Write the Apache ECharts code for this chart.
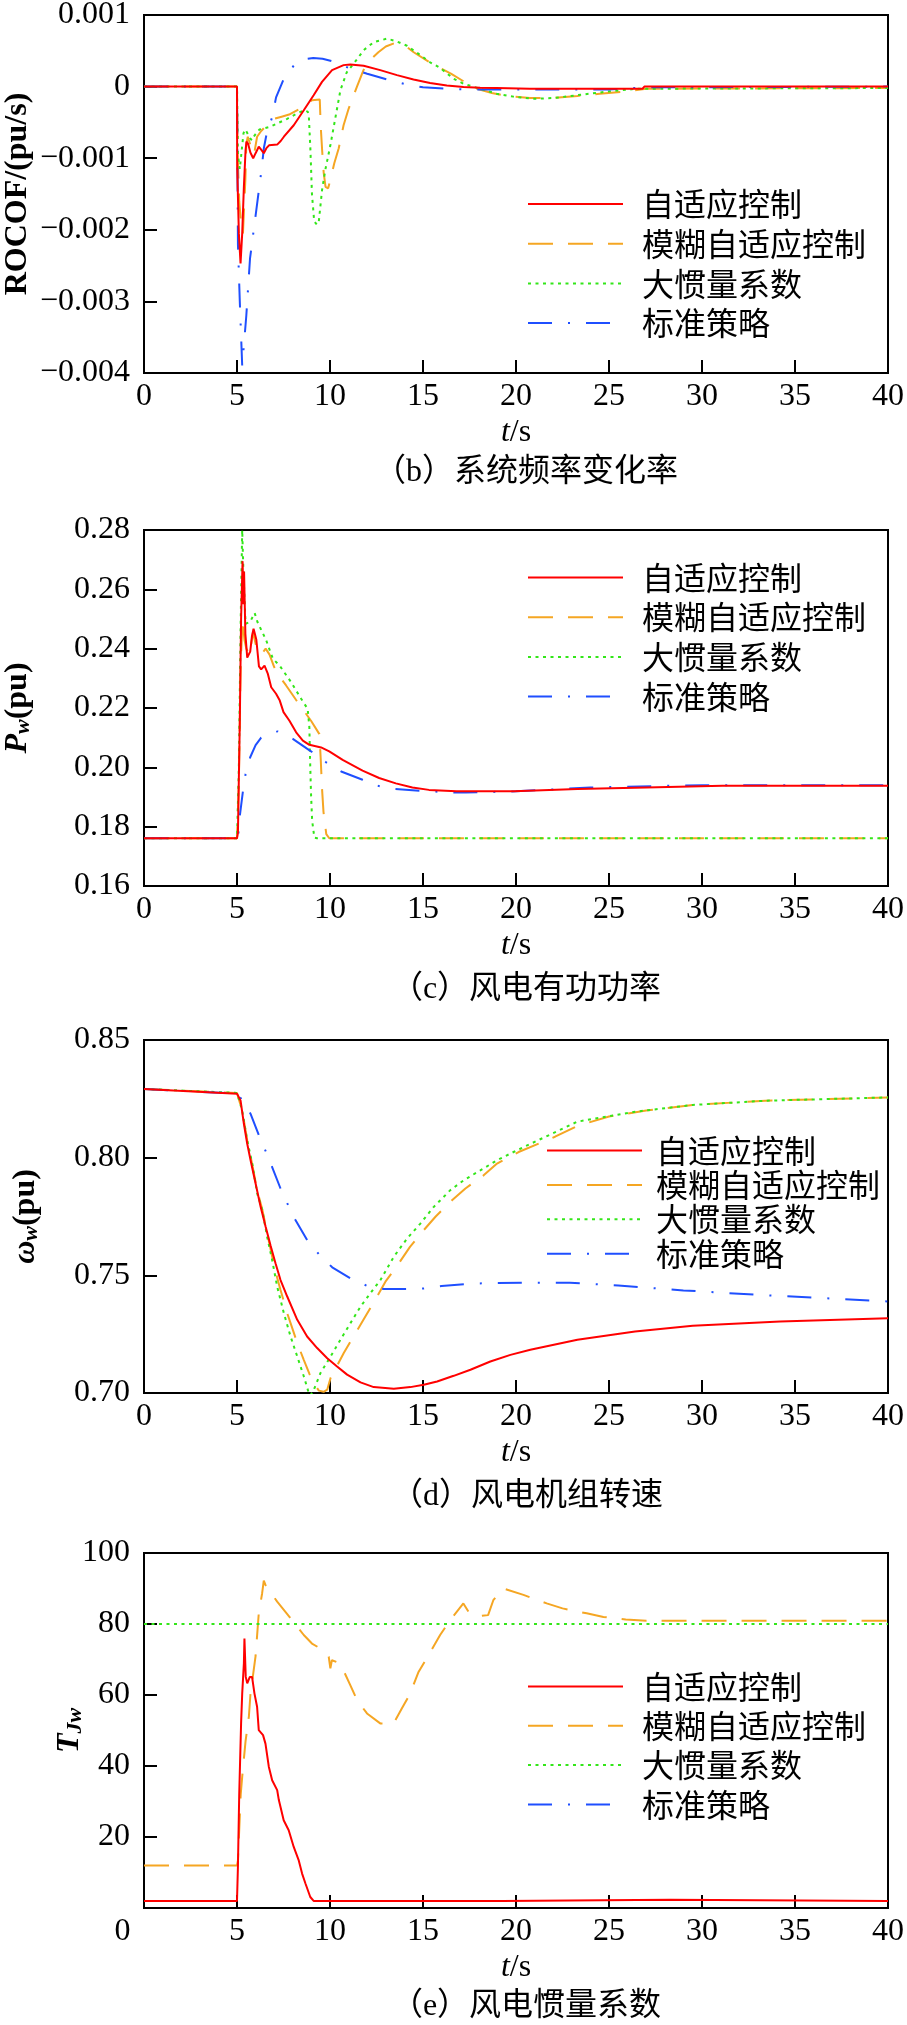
<!DOCTYPE html>
<html>
<head>
<meta charset="utf-8">
<script src="https://cdn.jsdelivr.net/npm/echarts@6/dist/echarts.min.js"></script>
<style>
html,body{margin:0;padding:0;background:#fff;}
#chart{width:907px;height:2025px;}
</style>
</head>
<body>
<div id="chart"></div>
<script>
// ---------- DATA ----------
const seriesNames = ['自适应控制', '模糊自适应控制', '大惯量系数', '标准策略'];
const captions = ['（b）系统频率变化率', '（c）风电有功功率', '（d）风电机组转速', '（e）风电惯量系数'];

// (b) ROCOF  [t (s), ROCOF (pu/s)]
const rocofAdaptive = [[0,0],[5.0,0],[5.01,-0.00112],[5.1,-0.00205],[5.19,-0.00247],[5.28,-0.00205],[5.37,-0.0014],[5.46,-0.00089],[5.51,-0.00077],[5.6,-0.0008],[5.72,-0.00092],[5.87,-0.001],[6.0,-0.00093],[6.17,-0.00084],[6.3,-0.00088],[6.44,-0.00093],[6.58,-0.00086],[6.72,-0.00082],[7.16,-0.00081],[7.35,-0.00076],[7.52,-0.0007],[8.05,-0.00054],[8.59,-0.00033],[9.12,-0.00012],[9.57,0.000066],[10.11,0.00023],[10.73,0.0003],[11.09,0.00031],[11.81,0.00029],[12.7,0.00023],[13.6,0.00016],[14.49,0.0001],[15.38,0.00005],[16.28,0.000015],[17.18,-0.000005],[18.07,-0.000015],[18.96,-0.00002],[20.75,-0.00003],[26.8,-0.00003],[26.9,0],[40,0]];
const rocofFuzzy = [[0,0],[5.0,0],[5.03,-0.0009],[5.12,-0.0016],[5.25,-0.002],[5.32,-0.00205],[5.38,-0.0017],[5.45,-0.0013],[5.5,-0.0008],[5.58,-0.0007],[5.7,-0.0008],[5.85,-0.00095],[5.95,-0.0009],[6.08,-0.0007],[6.3,-0.00062],[6.6,-0.00054],[6.8,-0.00049],[7.0,-0.00045],[7.4,-0.00042],[7.8,-0.00039],[8.6,-0.00028],[9.03,-0.00019],[9.45,-0.00018],[9.5,-0.00055],[9.58,-0.0009],[9.66,-0.0012],[9.76,-0.0014],[9.9,-0.00142],[10.02,-0.0013],[10.23,-0.00107],[10.47,-0.00086],[10.73,-0.00054],[11.0,-0.00031],[11.45,0.0],[11.8,0.00023],[12.2,0.00038],[12.6,0.00048],[13.0,0.00056],[13.4,0.0006],[14.0,0.00058],[14.5,0.00048],[15.3,0.00035],[15.7,0.00029],[16.5,0.00018],[17.4,0.00004],[17.9,-0.00003],[18.7,-0.00009],[19.5,-0.00013],[20.75,-0.00016],[22,-0.00016],[23.3,-0.00013],[24.5,-0.0001],[25.8,-0.00007],[27,-0.00003],[40,-0.00002]];
const rocofLarge = [[0,0],[5.0,0],[5.05,-0.00095],[5.15,-0.00115],[5.25,-0.0009],[5.35,-0.00065],[5.45,-0.0006],[5.55,-0.00062],[5.7,-0.00072],[5.8,-0.00075],[5.95,-0.00068],[6.2,-0.0006],[6.5,-0.00058],[6.8,-0.00056],[7.2,-0.00051],[7.7,-0.00045],[8.2,-0.00038],[8.6,-0.00033],[8.8,-0.00035],[8.86,-0.0004],[8.95,-0.0009],[9.03,-0.0015],[9.15,-0.00188],[9.3,-0.00193],[9.4,-0.00188],[9.57,-0.00145],[9.75,-0.00116],[10.02,-0.00082],[10.3,-0.00042],[10.56,-0.00005],[10.9,0.0002],[11.45,0.00038],[11.81,0.00051],[12.35,0.00062],[13.06,0.00067],[13.6,0.00063],[14.14,0.00057],[14.85,0.00044],[15.38,0.00034],[15.93,0.00026],[16.64,0.00011],[17.18,0.00004],[18.07,-0.00003],[18.96,-0.0001],[19.86,-0.00014],[20.9,-0.00017],[22,-0.00016],[23.3,-0.00012],[24.9,-0.00007],[26.5,-0.00003],[40,-0.00002]];
const rocofStandard = [[0,0],[5.0,0],[5.05,-0.0022],[5.15,-0.003],[5.28,-0.0039],[5.35,-0.0039],[5.5,-0.0032],[5.7,-0.0024],[5.9,-0.002],[6.1,-0.0016],[6.3,-0.0012],[6.45,-0.00085],[6.6,-0.00065],[6.9,-0.00042],[7.1,-0.00015],[7.5,0.0001],[8.1,0.00031],[8.6,0.00038],[9.1,0.0004],[9.6,0.00039],[10.2,0.00035],[11.1,0.00025],[12.0,0.00018],[13.2,0.00009],[14.1,0.00003],[15.0,-0.00001],[16.3,-0.00003],[17.2,-0.00004],[20,-0.00004],[25,-0.00004],[27,-0.00001],[40,0]];

// (c) wind active power P_w [t, pu]
const powerAdaptive = [[0,0.1761],[5.0,0.1761],[5.05,0.178],[5.15,0.215],[5.22,0.25],[5.3,0.2695],[5.35,0.255],[5.38,0.266],[5.45,0.245],[5.55,0.237],[5.71,0.239],[5.8,0.244],[5.89,0.2467],[5.96,0.245],[6.04,0.243],[6.18,0.234],[6.3,0.233],[6.48,0.2343],[6.66,0.2315],[6.84,0.227],[7.1,0.2248],[7.3,0.2225],[7.5,0.2186],[7.82,0.2157],[8.18,0.2118],[8.54,0.209],[8.89,0.2076],[9.52,0.2067],[9.96,0.2054],[10.68,0.2025],[11.75,0.1989],[12.64,0.1964],[13.54,0.1946],[14.43,0.1932],[15.32,0.1924],[16.8,0.1919],[19.9,0.1919],[23.3,0.1927],[27,0.1932],[31.1,0.1938],[40,0.1938]];
const powerFuzzy = [[0,0.1761],[5.0,0.1761],[5.1,0.195],[5.2,0.235],[5.3,0.25],[5.4,0.243],[5.5,0.24],[5.68,0.238],[5.86,0.2456],[6.04,0.2405],[6.3,0.238],[6.54,0.24],[6.75,0.238],[7.0,0.2338],[7.3,0.2305],[7.64,0.2276],[8.18,0.2227],[8.6,0.219],[8.98,0.2157],[9.43,0.2112],[9.5,0.203],[9.57,0.193],[9.65,0.185],[9.8,0.1775],[9.96,0.1761],[40,0.1761]];
const powerLarge = [[0,0.1761],[5.0,0.1761],[5.1,0.2],[5.2,0.25],[5.28,0.28],[5.35,0.265],[5.46,0.2484],[5.7,0.249],[5.95,0.252],[6.1,0.249],[6.57,0.2428],[6.93,0.2366],[7.29,0.2343],[7.91,0.2287],[8.45,0.2231],[8.8,0.2197],[8.89,0.2135],[8.93,0.2022],[8.98,0.191],[9.04,0.182],[9.16,0.1763],[9.3,0.1761],[40,0.1761]];
const powerStandard = [[0,0.1761],[5.0,0.1761],[5.08,0.178],[5.14,0.183],[5.32,0.192],[5.46,0.1977],[5.71,0.2034],[6.0,0.2075],[6.3,0.21],[7.18,0.2121],[8.0,0.2096],[8.98,0.2054],[9.79,0.2017],[10.6,0.1986],[11.75,0.1958],[12.55,0.1938],[13.5,0.1927],[14.8,0.1921],[16.8,0.1915],[17.3,0.1915],[20,0.1919],[24,0.1932],[30,0.194],[40,0.194]];

// (d) rotor speed omega_w [t, pu]
const speedAdaptive = [[0,0.8292],[5.0,0.8272],[5.19,0.8243],[5.37,0.8144],[5.55,0.8059],[5.73,0.7989],[6.0,0.789],[6.27,0.7791],[6.54,0.7706],[6.8,0.7628],[7.07,0.7551],[7.34,0.748],[7.7,0.741],[8.24,0.7311],[8.77,0.724],[9.31,0.7191],[9.85,0.7148],[10.38,0.7113],[10.92,0.7078],[11.64,0.7045],[12.35,0.7025],[13.43,0.7018],[14.32,0.7025],[15.04,0.7035],[15.76,0.7049],[16.65,0.7073],[17.55,0.7099],[18.62,0.7134],[19.7,0.7162],[20.77,0.7184],[23.3,0.7226],[26.4,0.7261],[29.5,0.7286],[34.2,0.7304],[40,0.7318]];
const speedFuzzy = [[0,0.8292],[5.0,0.8275],[5.28,0.82],[5.55,0.8073],[5.82,0.797],[6.09,0.786],[6.36,0.778],[6.62,0.768],[6.89,0.758],[7.16,0.749],[7.34,0.7438],[7.7,0.7339],[7.88,0.7297],[8.24,0.7212],[8.59,0.7141],[8.9,0.708],[9.13,0.7042],[9.4,0.701],[9.66,0.7005],[9.85,0.7014],[10.03,0.7064],[10.74,0.717],[11.37,0.7254],[11.9,0.7325],[12.53,0.741],[12.98,0.7473],[13.7,0.7551],[14.3,0.7621],[15.04,0.7692],[15.67,0.7749],[16.56,0.7819],[17.28,0.7869],[18.26,0.7925],[18.98,0.7975],[20.14,0.8024],[22.1,0.8089],[23.3,0.8135],[25,0.8175],[27,0.82],[29.5,0.8224],[33.4,0.8242],[40,0.8256]];
const speedLarge = [[0,0.8292],[5.0,0.8275],[5.28,0.82],[5.55,0.8073],[5.82,0.7975],[6.09,0.7847],[6.36,0.7777],[6.62,0.7664],[6.89,0.7565],[7.16,0.7452],[7.52,0.7339],[7.88,0.724],[8.24,0.7155],[8.59,0.7071],[8.86,0.7],[8.95,0.699],[9.13,0.7014],[9.49,0.7085],[10.03,0.7155],[10.56,0.7226],[11.1,0.7297],[11.64,0.7367],[12.17,0.7424],[12.71,0.748],[13.43,0.7579],[14.15,0.7657],[14.86,0.772],[15.58,0.7791],[16.47,0.7862],[17.19,0.7904],[18.08,0.7946],[18.98,0.7989],[19.87,0.8024],[20.6,0.8052],[23.3,0.8153],[26.4,0.8195],[29.5,0.8224],[33.4,0.8242],[40,0.8256]];
const speedStandard = [[0,0.8292],[5.0,0.8272],[5.19,0.8254],[5.5,0.822],[5.73,0.8186],[6.18,0.8095],[6.54,0.8028],[6.9,0.7958],[7.34,0.7869],[7.75,0.7798],[8.15,0.7734],[8.77,0.765],[9.4,0.759],[10.12,0.7534],[11.1,0.7487],[12.0,0.7455],[12.9,0.7442],[14.15,0.7442],[15.04,0.7444],[16.0,0.7455],[17.2,0.7462],[18.2,0.7466],[20.4,0.7469],[22.9,0.7469],[25.5,0.7457],[29,0.7436],[33,0.7417],[36.6,0.7403],[40,0.7389]];

// (e) wind inertia coefficient T_Jw [t, value]
const inertiaAdaptive = [[0,2.0],[5.0,2.0],[5.05,11.6],[5.12,32.2],[5.22,52],[5.28,60.4],[5.37,68.9],[5.4,75.9],[5.47,65.1],[5.55,63.3],[5.69,65.1],[5.81,65.1],[5.94,60.4],[6.08,56.7],[6.17,50.1],[6.4,48.7],[6.53,46.3],[6.71,39.8],[6.89,36.0],[7.16,33.2],[7.25,30.4],[7.51,24.7],[7.78,21.9],[8.05,17.2],[8.32,13.4],[8.5,9.7],[8.68,6.9],[8.94,3.1],[9.12,2.0],[19.28,2.0],[19.3,2.35],[28.3,2.35],[28.32,2.0],[40,2.0]];
const inertiaFuzzy = [[0,12.0],[5.0,12.0],[5.05,13.4],[5.2,32],[5.28,37],[5.46,47],[5.64,54],[5.72,60],[6.0,71],[6.17,83],[6.35,88.6],[6.44,92.2],[6.53,91],[7.16,86.3],[7.96,81.1],[8.59,76.9],[9.03,74.5],[9.48,73.1],[9.93,70.8],[10.02,67.5],[10.1,69.8],[10.55,68.9],[11.09,62.8],[11.45,58.6],[11.99,54.8],[12.7,52.0],[13.42,52.0],[13.86,56.2],[14.31,60.4],[14.76,66.5],[15.3,71.2],[15.92,76.9],[16.46,81.1],[17.17,85.8],[17.5,83],[18.0,82.2],[18.5,82.5],[18.78,86.7],[19.32,90.0],[20.4,88.2],[21.65,85.8],[22.5,84.4],[23.8,83],[24.7,82.0],[25.9,81.3],[27,80.9],[40,80.9]];
const inertiaLarge = [[0,80],[40,80]];
const inertiaStandard = [];

// axis ranges [min, max, interval]
const xRange = [0, 40, 5];
const yRanges = [[-0.004, 0.001, 0.001], [0.16, 0.28, 0.02], [0.70, 0.85, 0.05], [0, 100, 20]];

// ---------- STYLE ----------
const SERIF = "'Liberation Serif', 'Times New Roman', serif";
const CJK = "'Noto Sans CJK SC', sans-serif";
const COLORS = ['#ff0000', '#f5a623', '#33e619', '#1f4fff'];
const DASHES = ['solid', [25, 15], [3, 4.5], [24, 16, 2, 16]];

const panelData = [
  [rocofAdaptive, rocofFuzzy, rocofLarge, rocofStandard],
  [powerAdaptive, powerFuzzy, powerLarge, powerStandard],
  [speedAdaptive, speedFuzzy, speedLarge, speedStandard],
  [inertiaAdaptive, inertiaFuzzy, inertiaLarge, inertiaStandard]
];

const grids = [
  {left: 144, top: 15, width: 744, height: 358},
  {left: 144, top: 530, width: 744, height: 356},
  {left: 144, top: 1040, width: 744, height: 353},
  {left: 144, top: 1553, width: 744, height: 355}
];

const yNames = ['ROCOF/(pu/s)', '{i|P}{s|w}(pu)', '{i|ω}{s|w}(pu)', '{i|T}{s|Jw}'];
const yNameGaps = [110, 110, 102, 58];
const yFormatters = [
  v => v === 0 ? '0' : (v < 0 ? '−' : '') + Math.abs(v).toFixed(3),
  v => v.toFixed(2),
  v => v.toFixed(2),
  v => String(Math.round(v))
];
const legendPos = [
  {left: 527, top: 188, gap: 7.7, pad: 14},
  {left: 527, top: 561.5, gap: 7.7, pad: 14},
  {left: 546, top: 1134.5, gap: 2.4, pad: 9},
  {left: 527, top: 1670.5, gap: 7.3, pad: 14}
];
const captionPos = [[526, 473], [526, 990], [527, 1497], [526, 2007]];

const axisLineStyle = {color: '#000', width: 2};
const nameRich = {
  b: {fontFamily: SERIF, fontSize: 32, fontWeight: 'bold', color: '#000'},
  i: {fontFamily: SERIF, fontSize: 32, fontWeight: 'bold', fontStyle: 'italic', color: '#000'},
  s: {fontFamily: SERIF, fontSize: 22, fontWeight: 'bold', fontStyle: 'italic', color: '#000', lineHeight: 14, verticalAlign: 'bottom'}
};

const xAxes = grids.map((g, i) => ({
  gridIndex: i, type: 'value', min: xRange[0], max: xRange[1], interval: xRange[2],
  axisLine: {show: true, onZero: false, lineStyle: axisLineStyle},
  axisTick: {show: true, inside: true, length: 13, lineStyle: axisLineStyle},
  splitLine: {show: false},
  axisLabel: {
    color: '#000', fontFamily: SERIF, fontSize: 32, fontWeight: 'normal', margin: 8,
    formatter: i === 3 ? (v => v === 0 ? '{sh|0}' : String(v)) : (v => String(v)),
    rich: {sh: {fontFamily: SERIF, fontSize: 32, color: '#000', padding: [0, 43, 0, 0]}}
  },
  name: '{it|t}/s', nameLocation: 'middle', nameGap: 44, nameMoveOverlap: false,
  nameTextStyle: {
    fontFamily: SERIF, fontSize: 32, color: '#000',
    rich: {it: {fontFamily: SERIF, fontSize: 32, fontStyle: 'italic', color: '#000'}}
  }
}));

const yAxes = grids.map((g, i) => ({
  gridIndex: i, type: 'value', min: yRanges[i][0], max: yRanges[i][1], interval: yRanges[i][2],
  axisLine: {show: true, onZero: false, lineStyle: axisLineStyle},
  axisTick: {show: true, inside: true, length: 13, lineStyle: axisLineStyle},
  splitLine: {show: false},
  axisLabel: {color: '#000', fontFamily: SERIF, fontSize: 32, fontWeight: 'normal', margin: 14, formatter: yFormatters[i], showMinLabel: i !== 3},
  name: yNames[i], nameLocation: 'middle', nameRotate: 90, nameGap: yNameGaps[i], nameMoveOverlap: false,
  nameTextStyle: {fontFamily: SERIF, fontSize: 32, fontWeight: 'bold', color: '#000', rich: nameRich}
}));

const series = [];
panelData.forEach((arrs, p) => {
  arrs.forEach((data, k) => {
    series.push({
      type: 'line', name: seriesNames[k], xAxisIndex: p, yAxisIndex: p,
      data: data, symbol: 'none', showSymbol: false, smooth: false, clip: true,
      z: k === 0 ? 5 : 3,
      lineStyle: {color: COLORS[k], width: 2, type: DASHES[k]},
      itemStyle: {color: COLORS[k]}
    });
  });
});

const legends = legendPos.map(l => ({
  orient: 'vertical', left: l.left, top: l.top, padding: 0,
  itemWidth: 95, itemHeight: 14, itemGap: l.gap,
  data: seriesNames, selectedMode: false,
  itemStyle: {opacity: 0, borderWidth: 0},
  textStyle: {fontFamily: CJK, fontSize: 32, color: '#000', padding: [0, 0, 0, l.pad]}
}));

const graphics = captions.map((c, i) => ({
  type: 'text', x: captionPos[i][0], y: captionPos[i][1],
  style: {text: c, font: "32px 'Liberation Serif', 'Noto Sans CJK SC'", fill: '#000',
          align: 'center', verticalAlign: 'middle', textAlign: 'center', textVerticalAlign: 'middle'}
}));

const chart = echarts.init(document.getElementById('chart'), null, {renderer: 'canvas'});
chart.setOption({
  animation: false,
  backgroundColor: '#fff',
  grid: grids.map(g => Object.assign({show: true, borderColor: '#000', borderWidth: 2, backgroundColor: 'transparent', containLabel: false, outerBoundsMode: 'none'}, g)),
  xAxis: xAxes,
  yAxis: yAxes,
  legend: legends,
  graphic: graphics,
  series: series
});
</script>
</body>
</html>
